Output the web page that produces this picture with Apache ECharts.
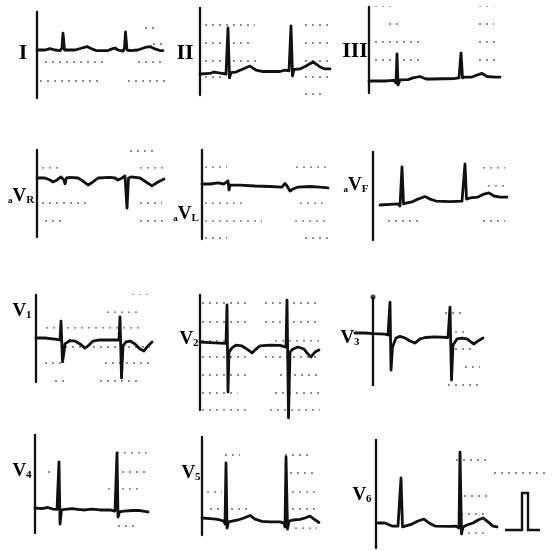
<!DOCTYPE html>
<html>
<head>
<meta charset="utf-8">
<script src="https://cdn.jsdelivr.net/npm/echarts@6/dist/echarts.min.js"></script>
<style>
  html, body { margin: 0; padding: 0; background: #fff; }
  #chart { width: 555px; height: 551px; }
</style>
</head>
<body>
<div id="chart"></div>
<script>
// 12-lead strip. Time in ms from the panel's left edge, amplitude in big boxes
// (0.5 mV) above the lead's baseline. Rules are the dotted box lines: [level, tStart, tEnd].

const leadNames = ['I', 'II', 'III', 'aVR', 'aVL', 'aVF', 'V1', 'V2', 'V3', 'V4', 'V5', 'V6']

const traceI = [[0,0],[64,0],[104,0.08],[144,0],[184,-0.03],[200,0.11],[208,0.94],[220,0],[224,-0.06],[240,0],[304,0],[360,0.11],[400,0.19],[440,0.06],[472,-0.03],[568,-0.03],[600,0.06],[624,0.11],[648,0],[688,-0.06],[700,0.11],[708,1.0],[720,0],[728,-0.11],[744,-0.03],[808,0],[864,0.14],[904,0.19],[944,0.06],[984,-0.03],[1008,-0.03]]
const traceII = [[0,0],[80,0.03],[112,0.11],[152,0.06],[208,0],[216,-0.11],[224,2.56],[236,-0.22],[248,0.08],[288,0.11],[344,0.28],[400,0.44],[448,0.22],[496,0.14],[640,0.14],[680,0.22],[712,0.17],[720,0.06],[728,2.67],[740,-0.11],[752,0.25],[800,0.28],[848,0.44],[904,0.67],[960,0.39],[1000,0.28],[1040,0.28]]
const traceIII = [[0,0],[128,0],[200,0.03],[216,-0.11],[224,1.5],[232,-0.22],[248,0.06],[312,0.08],[352,0.17],[408,0.25],[456,0.11],[504,0.11],[688,0.14],[720,0.17],[728,0.11],[736,1.56],[748,0.17],[768,0.22],[824,0.22],[864,0.33],[904,0.42],[944,0.25],[1008,0.22],[1048,0.22]]
const traceAVR = [[0,0],[64,0],[104,-0.11],[128,-0.22],[160,-0.11],[192,0.06],[208,0.11],[216,-0.11],[224,-0.33],[236,0],[264,0.03],[328,0],[368,-0.17],[408,-0.39],[448,-0.22],[488,0],[584,0.03],[624,0],[648,-0.11],[680,0],[704,0.11],[712,0.11],[720,-1.67],[732,0],[752,0.06],[824,0],[872,-0.22],[920,-0.44],[968,-0.22],[1016,-0.06]]
const traceAVL = [[0,0],[64,0],[128,0.06],[176,0],[208,0.17],[216,-0.33],[224,-0.06],[304,-0.06],[424,-0.11],[544,-0.14],[640,-0.17],[664,0.03],[680,-0.11],[704,-0.39],[728,-0.28],[768,-0.17],[864,-0.14],[944,-0.17],[1008,-0.22]]
const traceAVF = [[56,0],[136,0.03],[200,0.06],[216,-0.06],[232,2.11],[244,0.06],[264,0.11],[312,0.17],[360,0.33],[416,0.47],[456,0.33],[504,0.22],[616,0.19],[712,0.22],[728,0.14],[736,2.28],[748,0.33],[776,0.39],[840,0.44],[888,0.61],[928,0.67],[968,0.5],[1016,0.44],[1072,0.44]]
const traceV1 = [[0,0],[72,0],[152,-0.06],[192,-0.11],[200,0.94],[212,-1.33],[224,-0.78],[232,-0.33],[248,-0.22],[272,-0.14],[312,-0.17],[352,-0.33],[392,-0.56],[424,-0.39],[456,-0.17],[512,-0.11],[592,-0.11],[664,-0.11],[672,1.17],[684,-2.22],[696,-0.44],[720,-0.22],[752,-0.17],[792,-0.33],[832,-0.61],[864,-0.72],[896,-0.44],[928,-0.22]]
const traceV2 = [[0,0],[80,-0.03],[160,-0.06],[208,-0.08],[216,2.06],[224,-2.78],[232,-0.56],[256,-0.33],[288,-0.17],[336,-0.22],[384,-0.44],[416,-0.61],[448,-0.39],[480,-0.22],[560,-0.17],[640,-0.19],[688,-0.28],[696,2.33],[708,-4.22],[720,-0.56],[744,-0.39],[784,-0.28],[832,-0.39],[864,-0.67],[888,-0.83],[920,-0.56],[952,-0.44]]
const traceV3 = [[0,0],[80,0],[144,-0.03],[240,-0.06],[264,-0.11],[280,1.72],[288,-2.06],[300,-0.78],[328,-0.28],[360,-0.19],[400,-0.28],[440,-0.44],[480,-0.56],[520,-0.33],[560,-0.25],[640,-0.22],[744,-0.25],[752,-0.28],[760,1.44],[772,-2.61],[784,-0.67],[816,-0.33],[856,-0.28],[896,-0.33],[928,-0.5],[952,-0.61],[984,-0.44],[1024,-0.28]]
const traceV4 = [[0,0],[56,-0.03],[104,0.03],[144,-0.06],[176,-0.08],[184,-0.17],[192,2.56],[200,-0.89],[212,-0.11],[240,-0.08],[296,-0.03],[344,-0.08],[400,-0.11],[456,-0.06],[520,-0.11],[600,-0.11],[640,-0.17],[652,-0.28],[656,3.06],[664,-0.5],[676,-0.22],[712,-0.17],[776,-0.14],[840,-0.14],[904,-0.22]]
const traceV5 = [[0,0],[64,-0.03],[112,-0.06],[144,-0.11],[176,-0.17],[184,-0.33],[192,3.06],[200,-0.56],[212,-0.22],[240,-0.17],[288,-0.11],[336,0],[384,0.14],[424,-0.06],[480,-0.19],[544,-0.22],[624,-0.22],[656,-0.28],[664,-0.5],[672,3.39],[684,-0.61],[696,-0.17],[728,-0.11],[784,-0.08],[824,0],[864,0.11],[896,-0.06],[936,-0.25]]
const traceV6 = [[16,0],[72,0],[128,-0.17],[176,-0.17],[192,-0.22],[200,2.5],[212,-0.22],[232,-0.17],[288,-0.06],[336,0.11],[384,0.22],[424,0],[472,-0.17],[592,-0.19],[640,-0.17],[656,-0.22],[664,-0.28],[672,3.94],[684,-0.61],[696,-0.22],[728,-0.11],[776,0],[816,0.17],[856,0.28],[896,0.06],[936,-0.17],[968,-0.22]]
const calPulse = [[1032,-0.39],[1168,-0.39],[1168,1.67],[1216,1.67],[1216,-0.39],[1312,-0.39]]
const markerV3 = [[144,-2.94],[144,2.0]]

const rulesI = [[2.22,824,920],[1.22,864,968],[0.33,928,1000],[-0.67,64,560],[-0.67,808,1000],[-1.72,24,504],[-1.72,728,1040]]
const rulesII = [[2.72,40,440],[2.72,840,1024],[1.72,40,400],[1.72,840,1024],[0.72,40,464],[0.72,840,1024],[-0.17,40,200],[-0.17,840,1024],[-1.11,840,1000]]
const rulesIII = [[4.17,48,200],[4.17,880,1000],[3.17,160,240],[3.17,880,1000],[2.17,48,400],[2.17,880,1040],[1.17,48,400],[1.17,880,1040],[-0.78,48,280],[-0.78,800,1040]]
const rulesAVR = [[1.5,744,928],[0.56,40,200],[0.56,824,1024],[-1.39,40,400],[-1.39,824,1000],[-2.39,64,200],[-2.39,824,1024]]
const rulesAVL = [[0.94,24,200],[0.94,752,1008],[-1.06,24,344],[-1.06,784,1008],[-2.06,24,480],[-2.06,744,1008],[-3.0,24,200],[-3.0,824,1008]]
const rulesAVF = [[3.06,840,1056],[2.06,880,1056],[1.06,920,1056],[-0.89,120,400],[-0.89,880,1056]]
const rulesV1 = [[2.44,768,928],[1.44,568,808],[0.56,80,856],[-0.5,232,912],[-1.39,72,200],[-1.39,552,912],[-2.39,152,256],[-2.39,512,832]]
const rulesV2 = [[2.17,16,400],[2.17,520,960],[1.11,16,400],[1.11,520,960],[0.06,16,200],[0.06,600,960],[-0.83,16,400],[-0.83,520,960],[-1.83,16,400],[-1.83,640,960],[-2.83,16,300],[-2.83,600,960],[-3.78,16,400],[-3.78,560,960]]
const rulesV3 = [[1.11,720,880],[0.06,744,880],[-0.89,800,960],[-1.89,880,1000],[-2.89,744,1000]]
const rulesV4 = [[3.06,656,904],[2.0,104,144],[2.0,640,904],[1.06,584,840],[-1.0,664,800]]
const rulesV5 = [[3.5,184,304],[3.5,664,864],[2.5,704,904],[1.44,40,160],[1.44,664,920],[0.5,64,384],[0.5,664,920],[-0.56,744,920]]
const rulesV6 = [[3.5,640,880],[2.78,944,1352],[1.5,704,896],[0.5,680,880],[-0.56,680,896]]

// layout in px: [left, top, right, bottom], baseline y, label centre
const PX_MS = 1 / 8
const PX_BOX = 18
const layout = [
  { trace: traceI,   rules: rulesI,   box: [37, 12, 165, 98],    base: 50,  label: [23, 53] },
  { trace: traceII,  rules: rulesII,  box: [200, 8, 332, 95],    base: 74,  label: [185, 53] },
  { trace: traceIII, rules: rulesIII, box: [369, 7, 502, 93],    base: 81,  label: [355, 51] },
  { trace: traceAVR, rules: rulesAVR, box: [37, 150, 166, 237],  base: 178, label: [21, 196] },
  { trace: traceAVL, rules: rulesAVL, box: [202, 150, 330, 239], base: 184, label: [186, 214] },
  { trace: traceAVF, rules: rulesAVF, box: [373, 152, 508, 240], base: 205, label: [356, 185] },
  { trace: traceV1,  rules: rulesV1,  box: [36, 295, 155, 382],  base: 338, label: [22, 311] },
  { trace: traceV2,  rules: rulesV2,  box: [200, 295, 322, 410], base: 342, label: [189, 339] },
  { trace: traceV3,  rules: rulesV3,  box: [355, 297, 485, 386], base: 333, label: [350, 338], noAxis: true },
  { trace: traceV4,  rules: rulesV4,  box: [35, 435, 150, 533],  base: 508, label: [22, 471] },
  { trace: traceV5,  rules: rulesV5,  box: [202, 437, 320, 535], base: 518, label: [191, 473] },
  { trace: traceV6,  rules: rulesV6,  box: [376, 440, 545, 548], base: 523, label: [362, 495] }
]

const INK = '#111'
const grids = [], xAxes = [], yAxes = [], series = [], graphics = []

function labelText(name) {
  if (name.startsWith('aV')) return '{a|a}{v|V}{s|' + name.slice(2) + '}'
  if (name.startsWith('V')) return '{v|V}{s|' + name.slice(1) + '}'
  return '{r|' + name + '}'
}
const labelRich = {
  r: { fontFamily: 'Liberation Serif', fontWeight: 'bold', fontSize: 22, color: INK },
  v: { fontFamily: 'Liberation Serif', fontWeight: 'bold', fontSize: 19, color: INK },
  a: { fontFamily: 'Liberation Serif', fontWeight: 'bold', fontSize: 9, color: INK, verticalAlign: 'bottom' },
  s: { fontFamily: 'Liberation Serif', fontWeight: 'bold', fontSize: 11, color: INK, verticalAlign: 'bottom' }
}

layout.forEach((p, i) => {
  const [l, t, r, b] = p.box
  grids.push({ left: l, top: t, width: r - l, height: b - t, containLabel: false })
  xAxes.push({
    gridIndex: i, type: 'value', min: 0, max: (r - l) / PX_MS,
    axisLine: { show: false }, axisTick: { show: false }, axisLabel: { show: false }, splitLine: { show: false }
  })
  yAxes.push({
    gridIndex: i, type: 'value', min: (p.base - b) / PX_BOX, max: (p.base - t) / PX_BOX,
    axisLine: { show: !p.noAxis, onZero: false, lineStyle: { color: INK, width: 2.3 } },
    axisTick: { show: false }, axisLabel: { show: false }, splitLine: { show: false }
  })
  p.rules.forEach(rule => {
    series.push({
      type: 'line', xAxisIndex: i, yAxisIndex: i, silent: true, symbol: 'none',
      data: [[rule[1], rule[0]], [rule[2], rule[0]]],
      lineStyle: { color: '#666', width: 1.4, type: [2, 5] }
    })
  })
  series.push({
    type: 'line', name: leadNames[i], xAxisIndex: i, yAxisIndex: i, symbol: 'none',
    data: p.trace, clip: false,
    lineStyle: { color: INK, width: 2.8, join: 'round', cap: 'round' }
  })
  graphics.push({
    type: 'text', x: p.label[0], y: p.label[1],
    style: { text: labelText(leadNames[i]), rich: labelRich, align: 'center', verticalAlign: 'middle' }
  })
})

// V3 has its own marker stroke through the trace, V6 ends with the calibration pulse
series.push({
  type: 'line', xAxisIndex: 8, yAxisIndex: 8, symbol: 'none', data: markerV3,
  lineStyle: { color: INK, width: 2.3 }
})
series.push({
  type: 'scatter', xAxisIndex: 8, yAxisIndex: 8, symbolSize: 5, data: [markerV3[1]],
  itemStyle: { color: INK }
})
series.push({
  type: 'line', xAxisIndex: 11, yAxisIndex: 11, symbol: 'none', data: calPulse,
  lineStyle: { color: INK, width: 2.4, join: 'miter' }
})

const chart = echarts.init(document.getElementById('chart'), null, { renderer: 'canvas' })
chart.setOption({
  backgroundColor: '#fff',
  animation: false,
  grid: grids,
  xAxis: xAxes,
  yAxis: yAxes,
  series: series,
  graphic: graphics
})
</script>
</body>
</html>
